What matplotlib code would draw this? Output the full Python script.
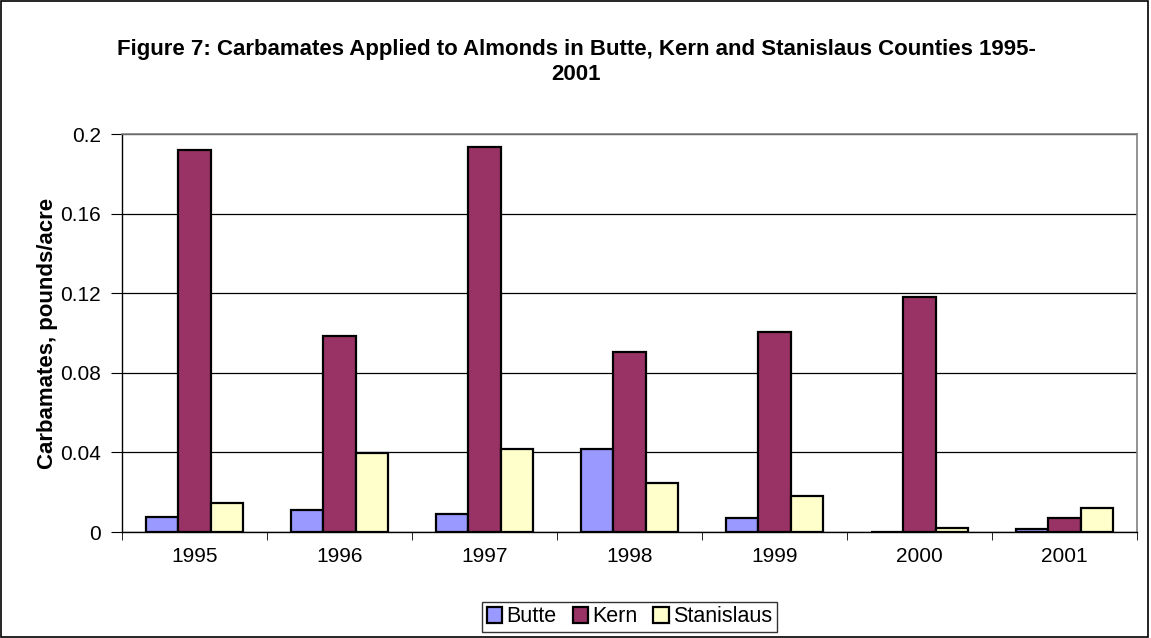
import matplotlib
matplotlib.use("Agg")
import matplotlib.pyplot as plt
import numpy as np
from matplotlib.patches import Rectangle

years = ["1995", "1996", "1997", "1998", "1999", "2000", "2001"]
butte = [0.0075, 0.011, 0.009, 0.0417, 0.007, 0.0, 0.0015]
kern = [0.192, 0.0985, 0.1935, 0.0905, 0.1005, 0.118, 0.007]
stanislaus = [0.0146, 0.0397, 0.0417, 0.0246, 0.018, 0.002, 0.012]

plt.rcParams["font.family"] = ["Liberation Sans", "DejaVu Sans"]

fig = plt.figure(figsize=(11.51, 6.38), dpi=100)
ax = fig.add_axes([122 / 1151, 1 - 532 / 638, (1137 - 122) / 1151, (532 - 134) / 638])

x = np.arange(len(years))
w = 0.224
cols = ["#9999ff", "#993366", "#ffffcc"]
for off, vals, c, lab in zip((-w, 0, w), (butte, kern, stanislaus), cols,
                             ("Butte", "Kern", "Stanislaus")):
    ax.bar(x + off, vals, w, color=c, edgecolor="black", lw=1.6, label=lab, zorder=3)

ax.set_xlim(-0.5, 6.5)
ax.set_ylim(0, 0.2)
ax.set_yticks([0, 0.04, 0.08, 0.12, 0.16, 0.2])
ax.set_yticklabels(["0", "0.04", "0.08", "0.12", "0.16", "0.2"])
ax.set_xticks(x)
ax.set_xticklabels(years)
ax.set_xticks(np.arange(-0.5, 7, 1), minor=True)
ax.tick_params(axis="x", which="major", length=0, labelsize=15, pad=11)
ax.tick_params(axis="x", which="minor", length=6, direction="out")
ax.tick_params(axis="y", length=8, direction="out", labelsize=15, pad=7)
ax.yaxis.grid(True, color="black", lw=0.9, zorder=0)
for s in ("top", "right"):
    ax.spines[s].set_color("#808080")
    ax.spines[s].set_linewidth(1.2)
ax.spines["left"].set_linewidth(1.0)
ax.spines["bottom"].set_linewidth(1.0)
ax.set_ylabel("Carbamates, pounds/acre", fontsize=16, fontweight="bold", labelpad=2)

fig.text(576 / 1151, 1 - 62 / 638, "Figure 7: Carbamates Applied to Almonds in Butte, Kern and Stanislaus Counties 1995-\n2001",
         ha="center", va="center", fontsize=16, fontweight="bold", linespacing=1.3)

leg = ax.legend(loc="center", bbox_to_anchor=(0.5, (532 - 617) / (532 - 134)), ncol=3,
                frameon=True, fancybox=False, edgecolor="black", fontsize=15.5,
                handlelength=0.7, handleheight=0.7, handletextpad=0.2, columnspacing=0.75,
                borderpad=0.22, borderaxespad=0)
leg.get_frame().set_linewidth(1.0)

fig.patches.append(Rectangle((1 / 1151, 1 / 638), 1147 / 1151, 636 / 638, transform=fig.transFigure,
                             fill=False, edgecolor="black", lw=1.2))

fig.savefig("out.png", dpi=100)
